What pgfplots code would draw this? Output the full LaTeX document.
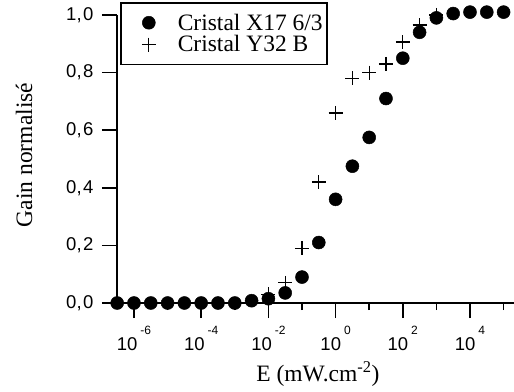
\documentclass[border=0pt]{standalone}
\usepackage{fontspec}
\setmainfont{Liberation Serif}
\setsansfont{Liberation Sans}
\usepackage{pgfplots}
\pgfplotsset{compat=1.18}
\newcommand\xl[1]{10\hspace{3pt}\raisebox{16pt}{\fontsize{12}{12}\selectfont #1}}
\newcommand\yl[2]{#1,\kern1.5pt#2}
\begin{document}
\begin{tikzpicture}
\begin{axis}[
  scale only axis, width=397pt, height=288pt,
  xmode=log, xmin=3.12e-7, xmax=2.04e5,
  ymin=0, ymax=1,
  axis x line*=bottom, axis y line*=left,
  axis line style={-, line width=1.6pt},
  tick align=outside,
  major tick length=15pt, minor tick length=7pt,
  every major tick/.append style={line width=1.6pt, black},
  every minor tick/.append style={line width=1.6pt, black},
  xtick={1e-6,1e-4,1e-2,1,1e2,1e4},
  minor xtick={1e-5,1e-3,1e-1,1e1,1e3,1e5},
  xticklabels={\xl{-6},\xl{-4},\xl{-2},\xl{0},\xl{2},\xl{4}},
  ytick={0,0.2,0.4,0.6,0.8,1},
  yticklabels={\yl{0}{0},\yl{0}{2},\yl{0}{4},\yl{0}{6},\yl{0}{8},\yl{1}{0}},
  ticklabel style={font=\fontsize{18.5}{20}\selectfont\sffamily},
  yticklabel style={xshift=-5pt},
  xticklabel style={yshift=-5pt},
  xlabel={E (mW.cm\textsuperscript{-2})},
  ylabel={Gain normalisé},
  every axis x label/.style={at={(axis description cs:0.506,-0.274)}, anchor=base, font=\fontsize{23.5}{26}\selectfont},
  every axis y label/.style={at={(axis description cs:-0.214,0.514)}, rotate=90, anchor=base, font=\fontsize{23.5}{26}\selectfont},
  clip=false,
  legend style={at={(rel axis cs:0.0076,1.045)}, anchor=north west, draw=black,
    line width=1.6pt, font=\fontsize{23.5}{24}\selectfont, inner xsep=2pt, inner ysep=9pt},
  legend cell align=left,
  legend image code/.code={\path[draw=none] (0pt,-4pt) rectangle (53pt,4pt);
    \draw[mark repeat=2,mark phase=2,#1] plot coordinates {(14pt,0pt)(26pt,0pt)(38pt,0pt)};},
]
\coordinate (O) at (rel axis cs:0,0);
\coordinate (a1) at (axis cs:1e-6,0);
\coordinate (a2) at (axis cs:1e-4,0);
\coordinate (a3) at (axis cs:1e-2,0);
\coordinate (a4) at (axis cs:1,0);
\coordinate (a5) at (axis cs:1e2,0);
\coordinate (a6) at (axis cs:1e4,0);
\coordinate (b1) at (axis cs:1e-5,0);
\coordinate (b2) at (axis cs:1e-3,0);
\coordinate (b3) at (axis cs:1e-1,0);
\coordinate (b4) at (axis cs:1e1,0);
\coordinate (b5) at (axis cs:1e3,0);
\coordinate (b6) at (axis cs:1e5,0);
\coordinate (c0) at (axis cs:3.12e-7,0);
\coordinate (c1) at (axis cs:3.12e-7,0.2);
\coordinate (c2) at (axis cs:3.12e-7,0.4);
\coordinate (c3) at (axis cs:3.12e-7,0.6);
\coordinate (c4) at (axis cs:3.12e-7,0.8);
\coordinate (c5) at (axis cs:3.12e-7,1);
\addplot[only marks, mark=*, mark size=6.5pt, black, line width=0.5pt] coordinates {
(3.162e-7,0) (1e-6,0) (3.162e-6,0) (1e-5,0) (3.162e-5,0) (1e-4,0) (3.162e-4,0) (1e-3,0)
(3.162e-3,0.008) (1e-2,0.015) (3.162e-2,0.035) (1e-1,0.09) (0.3162,0.21) (1,0.36)
(3.162,0.475) (10,0.575) (31.62,0.71) (100,0.85) (316.2,0.94) (1000,0.99)
(3162,1.005) (1e4,1.01) (31620,1.01) (1e5,1.01)};
\addlegendentry{Cristal X17 6/3}
\addplot[only marks, mark=+, mark size=7pt, black, line width=1.3pt] coordinates {
(1e-2,0.03) (3.162e-2,0.07) (0.1,0.19) (0.3162,0.42) (1,0.66) (3.162,0.78) (10,0.80)
(31.62,0.83) (100,0.906) (316.2,0.965) (1000,1.0)};
\addlegendentry{Cristal Y32 B}
\end{axis}
\foreach \i in {1,...,6} {
  \draw[black, line width=1.6pt] (a\i) -- ++(0pt,-15pt);
  \draw[black, line width=1.6pt] (b\i) -- ++(0pt,-7pt);
}
\foreach \i in {0,...,5} {
  \draw[black, line width=1.6pt] (c\i) -- ++(-15pt,0pt);
}
\pgfresetboundingbox
\path (O) ++(-117pt,-88pt) rectangle ++(514pt,391pt);
\end{tikzpicture}
\end{document}
